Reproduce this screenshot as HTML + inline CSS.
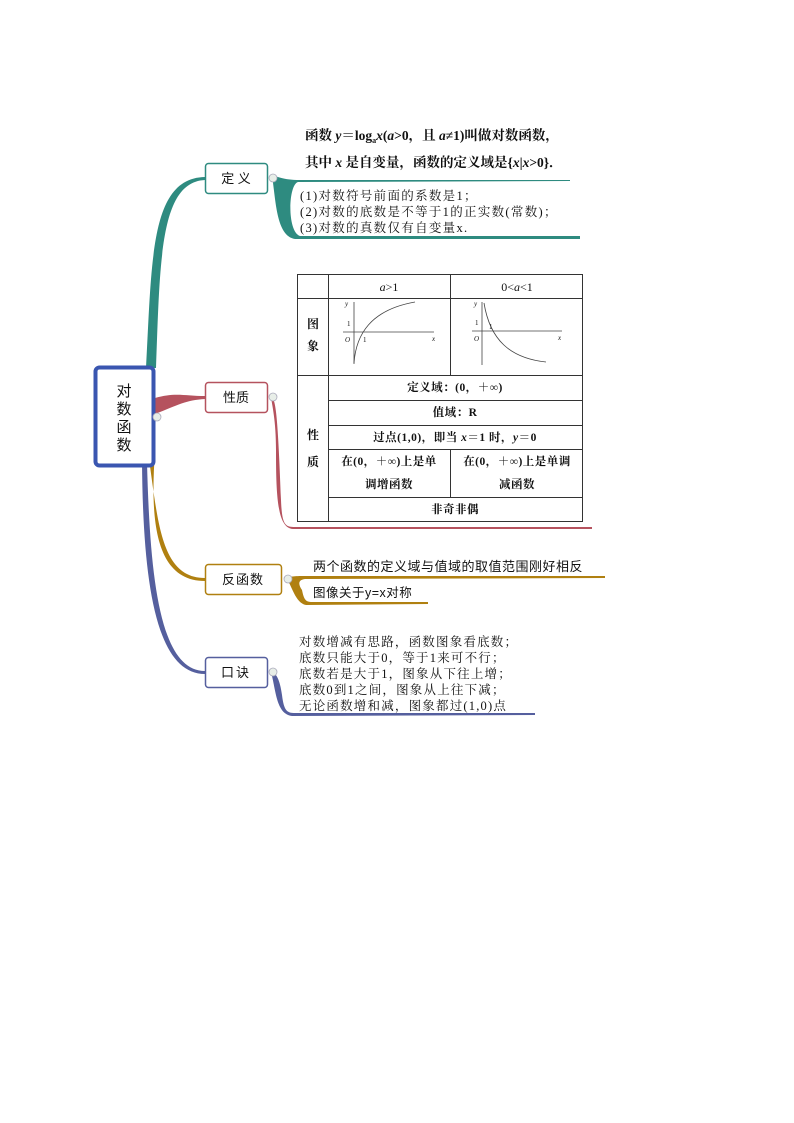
<!DOCTYPE html>
<html><head><meta charset="utf-8"><style>
html,body{margin:0;padding:0;background:#fff;}
svg{display:block;}
text{font-family:"Liberation Serif","Noto Serif CJK SC","Noto Sans CJK SC",serif;fill:#111;}
.s{font-family:"Liberation Sans","Noto Sans CJK SC",sans-serif;}
.b{font-weight:bold;}
</style></head><body>
<svg width="794" height="1123" viewBox="0 0 794 1123" xmlns="http://www.w3.org/2000/svg">
<path d="M146 368 C152 260,150 178,205 177 L205 180 C160 182,160 260,156 368 Z" fill="#2e8b80"/>
<path d="M155 398 C175 392,185 396,205 396 L205 399 C186 400,178 405,155 414 Z" fill="#b5525e"/>
<path d="M148 452 C158 520,160 578,205 578 L205 581 C155 581,150 520,155 452 Z" fill="#b08010"/>
<path d="M147 462 C150 580,160 671,205 671 L205 674 C155 674,143 580,142 462 Z" fill="#555f9e"/>
<path d="M272 176 C278 176,282 180,300 180 L570 180 L570 181 L298 182 C288 185,287 232,300 236 L580 236 L580 239 L295 239 C276 236,276 200,272 176 Z" fill="#2e8b80"/>
<path d="M271 397 C276 397,278 420,281 500 C282 525,285 527,295 527 L592 527 L592 529 L293 529 C278 528,276 500,276 450 C276 420,272 405,271 397 Z" fill="#b5525e"/>
<path d="M286 578 C292 576,296 576,310 576 L605 576 L605 578 L305 579 C298 580,298 584,302 590 C304 600,306 602,312 602 L428 602 L428 604 L306 605 C295 603,292 585,286 578 Z" fill="#b08010"/>
<path d="M271 672 C276 672,280 680,282 695 C284 711,287 713,295 713 L535 713 L535 715 L292 716 C276 714,276 690,271 672 Z" fill="#555f9e"/>
<rect x="95.5" y="367.5" width="58" height="98" rx="4" fill="#fff" stroke="#3a56b0" stroke-width="4"/>
<text x="124" y="396" font-size="15" text-anchor="middle" class="s">对</text>
<text x="124" y="414" font-size="15" text-anchor="middle" class="s">数</text>
<text x="124" y="432" font-size="15" text-anchor="middle" class="s">函</text>
<text x="124" y="450" font-size="15" text-anchor="middle" class="s">数</text>
<rect x="205.5" y="163.5" width="62" height="30" rx="3" fill="#fff" stroke="#2e8b80" stroke-width="1.5"/>
<text x="236" y="183" font-size="13" text-anchor="middle" class="s">定 义</text>
<rect x="205.5" y="382.5" width="62" height="30" rx="3" fill="#fff" stroke="#b5525e" stroke-width="1.5"/>
<text x="236" y="402" font-size="13" text-anchor="middle" class="s">性质</text>
<rect x="205.5" y="564.5" width="76" height="30" rx="3" fill="#fff" stroke="#b08010" stroke-width="1.5"/>
<text x="243" y="584" font-size="13" text-anchor="middle" class="s" letter-spacing="1">反函数</text>
<rect x="205.5" y="657.5" width="62" height="30" rx="3" fill="#fff" stroke="#555f9e" stroke-width="1.5"/>
<text x="236" y="677" font-size="13" text-anchor="middle" class="s" letter-spacing="2">口诀</text>
<g fill="#e8eee8" stroke="#aab" stroke-width="0.8">
<circle cx="273" cy="178" r="4"/><circle cx="273" cy="397" r="4"/><circle cx="157" cy="417" r="4"/><circle cx="288" cy="579" r="4"/><circle cx="273" cy="672" r="4"/>
</g>
<text x="305" y="140" font-size="13.5" class="b">函数 <tspan font-style="italic">y</tspan>＝log<tspan font-size="8" dy="3">a</tspan><tspan dy="-3" font-style="italic">x</tspan>(<tspan font-style="italic">a</tspan>&gt;0，且 <tspan font-style="italic">a</tspan>≠1)叫做对数函数，</text>
<text x="305" y="167" font-size="13.5" class="b">其中 <tspan font-style="italic">x</tspan> 是自变量，函数的定义域是{<tspan font-style="italic">x</tspan>|<tspan font-style="italic">x</tspan>&gt;0}．</text>
<g font-size="12.5" letter-spacing="1.3">
<text x="300" y="200">(1)对数符号前面的系数是1；</text>
<text x="300" y="216">(2)对数的底数是不等于1的正实数(常数)；</text>
<text x="300" y="232">(3)对数的真数仅有自变量x.</text>
</g>
<g stroke="#333" stroke-width="1" fill="none">
<rect x="297.5" y="274.5" width="285" height="247"/>
<line x1="328.5" y1="274" x2="328.5" y2="522"/>
<line x1="450.5" y1="274" x2="450.5" y2="375"/>
<line x1="450.5" y1="449" x2="450.5" y2="497"/>
<line x1="297" y1="298.5" x2="583" y2="298.5"/>
<line x1="297" y1="375.5" x2="583" y2="375.5"/>
<line x1="328" y1="400.5" x2="583" y2="400.5"/>
<line x1="328" y1="425.5" x2="583" y2="425.5"/>
<line x1="328" y1="449.5" x2="583" y2="449.5"/>
<line x1="328" y1="497.5" x2="583" y2="497.5"/>
</g>
<text x="389" y="291" font-size="12" text-anchor="middle"><tspan font-style="italic">a</tspan>&gt;1</text>
<text x="517" y="291" font-size="12" text-anchor="middle">0&lt;<tspan font-style="italic">a</tspan>&lt;1</text>
<text x="313" y="328" font-size="12" text-anchor="middle" class="b">图</text>
<text x="313" y="350" font-size="12" text-anchor="middle" class="b">象</text>
<text x="313" y="439" font-size="12" text-anchor="middle" class="b">性</text>
<text x="313" y="466" font-size="12" text-anchor="middle" class="b">质</text>
<g stroke="#444" stroke-width="0.8" fill="none">
<line x1="354" y1="364" x2="354" y2="302"/><line x1="343" y1="332" x2="434" y2="332"/>
<path d="M354 363 C356 335,370 310,415 302"/>
<line x1="482" y1="365" x2="482" y2="302"/><line x1="472" y1="331" x2="562" y2="331"/>
<path d="M484 303 C490 340,510 358,546 362"/>
</g>
<g font-size="7" font-style="italic"><text x="345" y="306">y</text><text x="432" y="341">x</text><text x="345" y="342">O</text>
<text x="474" y="306">y</text><text x="558" y="340">x</text><text x="474" y="341">O</text></g>
<g font-size="7"><text x="347" y="326">1</text><text x="363" y="342">1</text><text x="475" y="325">1</text><text x="489" y="329">1</text></g>
<g font-size="11.5" class="b" text-anchor="middle" letter-spacing="0.5">
<text x="455" y="391">定义域：(0，＋∞)</text>
<text x="455" y="416">值域：R</text>
<text x="455" y="441">过点(1,0)，即当 <tspan font-style="italic">x</tspan>＝1 时，<tspan font-style="italic">y</tspan>＝0</text>
<text x="389" y="465">在(0，＋∞)上是单</text>
<text x="389" y="488">调增函数</text>
<text x="517" y="465">在(0，＋∞)上是单调</text>
<text x="517" y="488">减函数</text>
<text x="455" y="513">非奇非偶</text>
</g>
<text x="313" y="571" font-size="13" class="s" letter-spacing="0.5">两个函数的定义域与值域的取值范围刚好相反</text>
<text x="313" y="597" font-size="12.5" class="s" letter-spacing="0.5">图像关于y=x对称</text>
<g font-size="12.5" letter-spacing="1.2">
<text x="299" y="646">对数增减有思路，函数图象看底数；</text>
<text x="299" y="662">底数只能大于0，等于1来可不行；</text>
<text x="299" y="678">底数若是大于1，图象从下往上增；</text>
<text x="299" y="694">底数0到1之间，图象从上往下减；</text>
<text x="299" y="710">无论函数增和减，图象都过(1,0)点</text>
</g>
</svg>
</body></html>
